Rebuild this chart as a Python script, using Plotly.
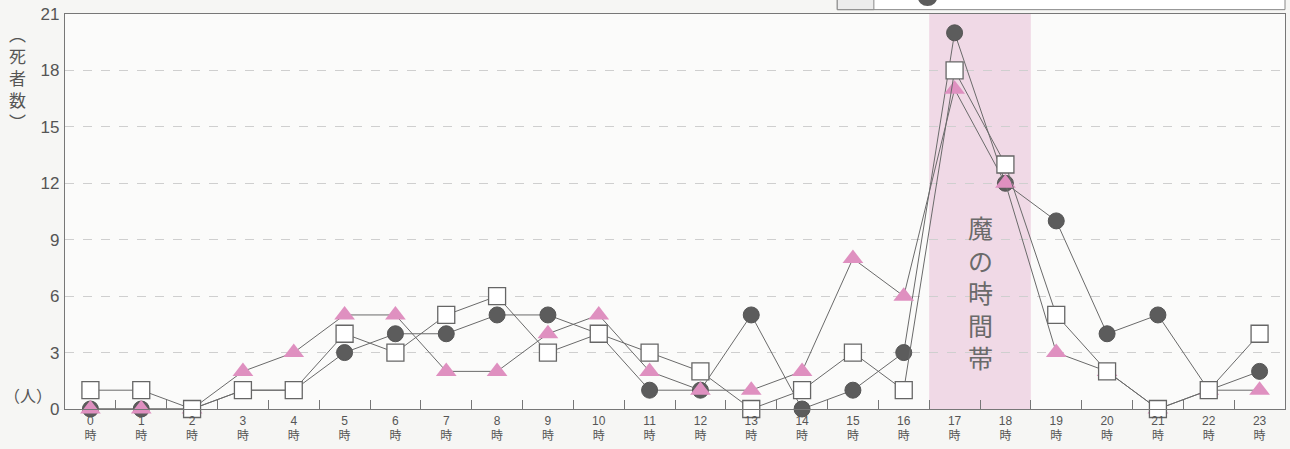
import plotly.graph_objects as go

hours = list(range(24))
hour_labels = [f"{h}<br>時" for h in hours]
circle_vals = [0, 0, 0, 1, 1, 3, 4, 4, 5, 5, 4, 1, 1, 5, 0, 1, 3, 20, 12, 10, 4, 5, 1, 2]
triangle_vals = [0, 0, 0, 2, 3, 5, 5, 2, 2, 4, 5, 2, 1, 1, 2, 8, 6, 17, 12, 3, 2, 0, 1, 1]
square_vals = [1, 1, 0, 1, 1, 4, 3, 5, 6, 3, 4, 3, 2, 0, 1, 3, 1, 18, 13, 5, 2, 0, 1, 4]
y_ticks = [0, 3, 6, 9, 12, 15, 18, 21]
band_hours = [17, 18]
band_label = "魔の時間帯"

FONT = "Liberation Sans, Noto Sans CJK JP, sans-serif"
LINE = "#6a6a6a"

fig = go.Figure()

fig.add_trace(go.Scatter(
    x=hours, y=circle_vals, mode="lines+markers", cliponaxis=False,
    line=dict(color=LINE, width=1),
    marker=dict(symbol="circle", size=16, color="#5c5c5c", line=dict(color="#555", width=1)),
    showlegend=False))
fig.add_trace(go.Scatter(
    x=hours, y=triangle_vals, mode="lines+markers", cliponaxis=False,
    line=dict(color=LINE, width=1),
    marker=dict(symbol="triangle-up", size=18, color="#df90c0", line=dict(width=0)),
    showlegend=False))
fig.add_trace(go.Scatter(
    x=hours, y=square_vals, mode="lines+markers", cliponaxis=False,
    line=dict(color=LINE, width=1),
    marker=dict(symbol="square", size=17, color="white", line=dict(color="#666", width=1.3)),
    showlegend=False))

# highlighted band
fig.add_shape(type="rect", xref="x", yref="y",
              x0=band_hours[0] - 0.5, x1=band_hours[-1] + 0.5, y0=0, y1=21,
              fillcolor="#f0d9e6", line=dict(width=0), layer="below")
fig.add_annotation(x=(band_hours[0] + band_hours[-1]) / 2, y=6.2, xref="x", yref="y",
                   text="<br>".join(band_label), showarrow=False,
                   font=dict(family="Noto Sans CJK JP", size=25, color="#6a6a6a"))

# y-axis title and unit
fig.add_annotation(x=-0.039, y=17.6, xref="paper", yref="y", xanchor="center",
                   text="︵<br>死<br>者<br>数<br>︶", showarrow=False,
                   font=dict(family="Noto Sans CJK JP", size=17, color="#555"))
fig.add_annotation(x=-0.030, y=0.75, xref="paper", yref="y", xanchor="center",
                   text="（人）", showarrow=False,
                   font=dict(family="Noto Sans CJK JP", size=16, color="#555"))

# partial legend box at top (cropped in original)
fig.add_shape(type="rect", xref="paper", yref="paper", x0=0.633, x1=1.0, y0=1.011, y1=1.08,
              fillcolor="white", line=dict(color="#888", width=1), layer="above")
fig.add_shape(type="rect", xref="paper", yref="paper", x0=0.633, x1=0.663, y0=1.011, y1=1.08,
              fillcolor="#ececec", line=dict(color="#888", width=1), layer="above")
fig.add_shape(type="circle", xref="paper", yref="paper", x0=0.699, x1=0.715, y0=1.020, y1=1.066,
              fillcolor="#5c5c5c", line=dict(width=0), layer="above")

fig.update_layout(
    width=1290, height=449,
    margin=dict(l=65, r=5, t=14, b=40),
    paper_bgcolor="#f6f6f4", plot_bgcolor="#fbfbfa",
    font=dict(family=FONT, color="#555"),
    xaxis=dict(range=[-0.5, 23.5], tickmode="array", tickvals=hours, ticktext=hour_labels,
               showgrid=False, zeroline=False, showline=True, linecolor="#777", linewidth=1.2,
               mirror=True, ticks="", tickfont=dict(size=12, color="#555")),
    xaxis2=dict(range=[-0.5, 23.5], overlaying="x", anchor="y",
                tickmode="array", tickvals=[h + 0.5 for h in hours[:-1]],
                ticks="inside", ticklen=9, tickcolor="#777", showticklabels=False,
                showgrid=False, zeroline=False, side="bottom"),
    yaxis=dict(range=[0, 21], tickmode="array", tickvals=y_ticks,
               showgrid=True, gridcolor="#cfcfcf", griddash="dash", gridwidth=1,
               zeroline=False, showline=True, linecolor="#777", linewidth=1.2, mirror=True,
               ticks="", tickfont=dict(size=17, color="#555"), ticklabelstandoff=1),
)
fig.add_trace(go.Scatter(x=[None], y=[None], xaxis="x2", showlegend=False))

fig.write_html("out.html", config={"displayModeBar": False},
               post_script="document.body.style.margin='0';document.body.style.background='#f6f6f4';")
